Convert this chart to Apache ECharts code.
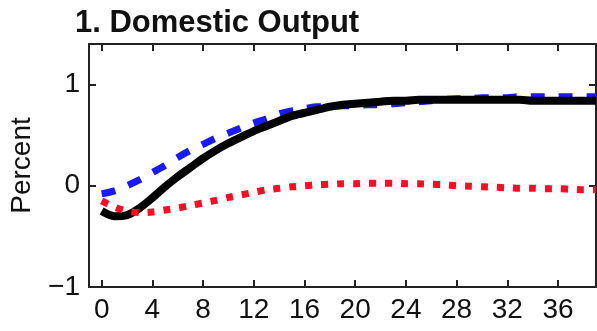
<!DOCTYPE html>
<html>
<head>
<meta charset="utf-8">
<script src="https://cdn.jsdelivr.net/npm/echarts@6/dist/echarts.min.js"></script>
<style>
  html, body { margin: 0; padding: 0; background: #ffffff; }
  #chart { width: 597px; height: 331px; }
</style>
</head>
<body>
<div id="chart"></div>
<script>
// Quarters after the shock
const periods = [0, 1, 2, 3, 4, 5, 6, 7, 8, 9, 10, 11, 12, 13, 14, 15, 16, 17, 18, 19,
                 20, 21, 22, 23, 24, 25, 26, 27, 28, 29, 30, 31, 32, 33, 34, 35, 36, 37, 38, 39];

// Domestic output response, percent
const outputSolid = [-0.25, -0.30, -0.29, -0.22, -0.12, -0.01, 0.09, 0.18, 0.27, 0.35,
                     0.42, 0.48, 0.54, 0.59, 0.64, 0.69, 0.72, 0.75, 0.78, 0.80,
                     0.81, 0.82, 0.83, 0.84, 0.84, 0.85, 0.85, 0.85, 0.85, 0.85,
                     0.85, 0.85, 0.85, 0.85, 0.84, 0.84, 0.84, 0.84, 0.84, 0.84];
const outputDashed = [-0.08, -0.05, 0.00, 0.06, 0.13, 0.20, 0.28, 0.35, 0.41, 0.47,
                      0.52, 0.57, 0.62, 0.66, 0.71, 0.74, 0.76, 0.78, 0.78, 0.79,
                      0.79, 0.80, 0.80, 0.81, 0.82, 0.83, 0.84, 0.85, 0.86, 0.86,
                      0.87, 0.87, 0.87, 0.88, 0.88, 0.88, 0.88, 0.88, 0.88, 0.88];
const outputDotted = [-0.15, -0.21, -0.25, -0.265, -0.26, -0.24, -0.22, -0.195, -0.17, -0.145,
                      -0.115, -0.09, -0.065, -0.04, -0.025, -0.01, 0.00, 0.01, 0.015, 0.02,
                      0.02, 0.025, 0.025, 0.025, 0.02, 0.02, 0.015, 0.01, 0.00, -0.005,
                      -0.01, -0.015, -0.02, -0.025, -0.025, -0.03, -0.03, -0.035, -0.04, -0.04];

// Tick positions and labels
const xTicks = [0, 4, 8, 12, 16, 20, 24, 28, 32, 36];
const yTicks = [-1, 0, 1];

const titleText = '1. Domestic Output';
const yAxisTitle = 'Percent';

const pairs = (vals) => periods.map((p, i) => [p, vals[i]]);

const font = 'Liberation Sans, Arial, sans-serif';
const frame = { color: '#222222', width: 2 };

function xAxisDef(pos, labels) {
  return {
    type: 'value', position: pos, min: -1, max: 39,
    axisLine: { show: true, onZero: false, lineStyle: frame },
    axisTick: { show: true, inside: true, length: 7, customValues: xTicks, lineStyle: frame },
    axisLabel: labels
      ? { show: true, customValues: xTicks, fontSize: 28, fontFamily: font, color: '#111111', margin: 9 }
      : { show: false },
    splitLine: { show: false }
  };
}

function yAxisDef(pos, labels) {
  const ax = {
    type: 'value', position: pos, min: -1, max: 1.4, interval: 1,
    axisLine: { show: true, onZero: false, lineStyle: frame },
    axisTick: { show: true, inside: true, length: 7, customValues: yTicks, lineStyle: frame },
    axisLabel: labels
      ? { show: true, customValues: yTicks, fontSize: 28, fontFamily: font, color: '#111111', margin: 9,
          formatter: (v) => String(v).replace('-', '\u2212') }
      : { show: false },
    splitLine: { show: false }
  };
  if (labels) {
    ax.name = yAxisTitle;
    ax.nameLocation = 'middle';
    ax.nameGap = 53;
    ax.nameTextStyle = { fontSize: 28, fontFamily: font, color: '#111111' };
  }
  return ax;
}

const chart = echarts.init(document.getElementById('chart'), null, { renderer: 'canvas' });
chart.setOption({
  animation: false,
  backgroundColor: '#ffffff',
  title: {
    text: titleText, left: 70, top: 3,
    textStyle: { fontSize: 31, fontWeight: 'bold', fontFamily: font, color: '#111111' }
  },
  grid: { left: 82, right: 1, top: 44, bottom: 44, containLabel: false },
  xAxis: [xAxisDef('bottom', true), xAxisDef('top', false)],
  yAxis: [yAxisDef('left', true), yAxisDef('right', false)],
  series: [
    {
      name: 'dashed', type: 'line', data: pairs(outputDashed), showSymbol: false, smooth: 0.3,
      lineStyle: { color: '#1a1af2', width: 7, type: [14, 14], cap: 'butt' }, z: 2
    },
    {
      name: 'solid', type: 'line', data: pairs(outputSolid), showSymbol: false, smooth: 0.3,
      lineStyle: { color: '#000000', width: 8, type: 'solid' }, z: 3
    },
    {
      name: 'dotted', type: 'line', data: pairs(outputDotted), showSymbol: false, smooth: 0.3,
      lineStyle: { color: '#ff0a22', width: 7, type: [7, 9], cap: 'butt' }, z: 4
    }
  ]
});
</script>
</body>
</html>
